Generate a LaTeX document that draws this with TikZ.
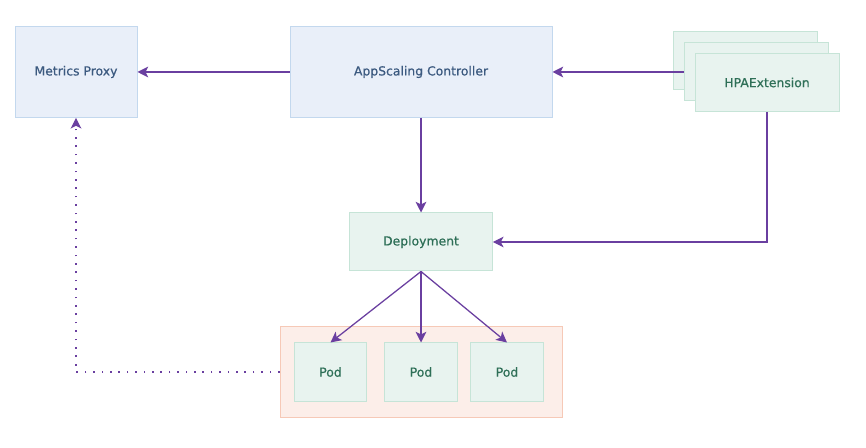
\documentclass[tikz,border=0pt]{standalone}
\usepackage{fontspec}
\setmainfont{DejaVu Sans}
\newfontfamily\boxfont[FakeBold=0.6]{DejaVu Sans}
\usetikzlibrary{arrows.meta}
\definecolor{arrowpurple}{HTML}{6A3FA0}
\definecolor{bluefill}{HTML}{E9EFF9}
\definecolor{blueline}{HTML}{C3D8EE}
\definecolor{bluetext}{HTML}{3C5A80}
\definecolor{greenfill}{HTML}{E8F3EF}
\definecolor{greenline}{HTML}{C6E4D7}
\definecolor{greentext}{HTML}{2E6F57}
\definecolor{podfill}{HTML}{FCEEE9}
\definecolor{podline}{HTML}{F6C9B7}

\begin{document}
\begin{tikzpicture}[x=0.75pt,y=-0.75pt,
    bluebox/.style={draw=blueline,fill=bluefill,text=bluetext,line width=0.75pt,font=\boxfont\fontsize{9.3}{11}\selectfont},
    greenbox/.style={draw=greenline,fill=greenfill,text=greentext,line width=0.75pt,font=\boxfont\fontsize{9.3}{11}\selectfont},
    link/.style={draw=arrowpurple,line width=0.95pt,-{Stealth[length=8pt,width=8pt,inset=2pt]}}]
            \useasboundingbox[fill=white] (0,0) rectangle (866,448);
            \node (proxy) at (76,72)[bluebox,minimum width=91.5pt,minimum height=68pt]{Metrics Proxy};
            \node (ctrl) at (421,72)[bluebox,minimum width=196.5pt,minimum height=68pt]{AppScaling Controller};
            \node (hpaback) at (745,61)[greenbox,minimum width=108pt,minimum height=43.5pt]{};
            \node (hpamid) at (756,72)[greenbox,minimum width=108pt,minimum height=43.5pt]{};
            \node (hpa) at (767,82.5)[greenbox,minimum width=108pt,minimum height=43.5pt]{HPAExtension};
            \node (deploy) at (421,242)[greenbox,minimum width=107pt,minimum height=43.5pt]{Deployment};
            \node (group) at (421,372)[draw=podline,fill=podfill,line width=0.75pt,minimum width=211.5pt,minimum height=67.5pt]{};
            \node (pod1) at (330.5,372)[greenbox,minimum width=54.5pt,minimum height=43.5pt]{Pod};
            \node (pod2) at (421,372)[greenbox,minimum width=54.5pt,minimum height=43.5pt]{Pod};
            \node (pod3) at (507,372)[greenbox,minimum width=54.5pt,minimum height=43.5pt]{Pod};
            \draw[link] (ctrl.west)--(proxy.east);
            \draw[link] (hpamid.west)--(ctrl.east);
            \draw[link] (ctrl.south)--(deploy.north);
            \draw[link] (hpa.south)|-(deploy.east);
            \draw[link] (deploy.south)--(pod1.north);
            \draw[link] (deploy.south)--(pod2.north);
            \draw[link] (deploy.south)--(pod3.north);
            \draw[link,dash pattern=on 1.2pt off 5.1pt] (group.west)-|(proxy.south);
        \end{tikzpicture}
\end{document}
